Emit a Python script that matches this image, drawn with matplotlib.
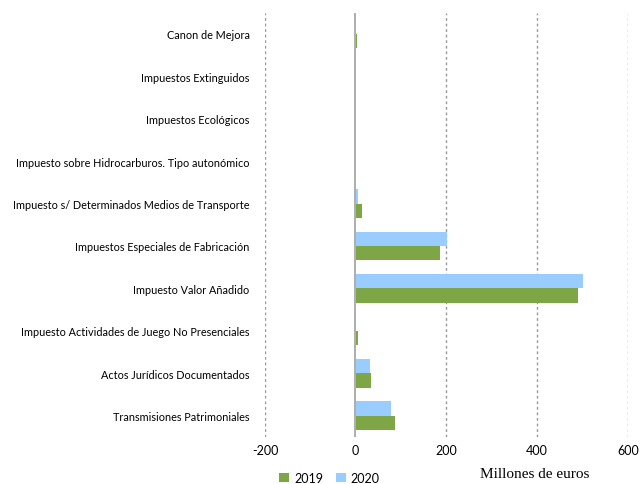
import matplotlib.pyplot as plt
import numpy as np

categories = ['Canon de Mejora', 'Impuestos Extinguidos', 'Impuestos Ecológicos',
              'Impuesto sobre Hidrocarburos. Tipo autonómico',
              'Impuesto s/ Determinados Medios de Transporte',
              'Impuestos Especiales de Fabricación', 'Impuesto Valor Añadido',
              'Impuesto Actividades de Juego No Presenciales',
              'Actos Jurídicos Documentados', 'Transmisiones Patrimoniales']
values_2019 = [3.5, 0.3, 0.5, 0.5, 14, 186, 490, 5, 34, 87]
values_2020 = [1, 0.2, 0.5, 0.5, 5, 200.5, 501, 0.3, 32, 78]
xticks = [-200, 0, 200, 400, 600]

plt.rcParams['font.family'] = ['Lato', 'DejaVu Sans']

fig = plt.figure(figsize=(6.4, 4.85), dpi=100)
ax = fig.add_axes([0.414, 0.097, 0.567, 0.875])

y = np.arange(len(categories))
h = 0.34
ax.barh(y - h / 2, values_2020, height=h, color='#99CCFF', label='2020', zorder=3)
ax.barh(y + h / 2, values_2019, height=h, color='#7FA646', label='2019', zorder=3)

ax.set_ylim(len(categories) - 0.5, -0.5)
ax.set_xlim(-200, 600)
ax.set_xticks(xticks)
ax.set_xticklabels([str(t) for t in xticks], fontsize=9)
ax.set_yticks(y)
ax.set_yticklabels(categories, fontsize=7.8)
ax.tick_params(axis='y', length=0, pad=11)
ax.tick_params(axis='x', length=0, pad=5)
for s in ax.spines.values():
    s.set_visible(False)

# dashed gridlines, solid zero axis underneath the bars
for t in [-200, 200, 400, 600]:
    ax.axvline(t, color='#999999', linestyle=(0, (2, 2)), linewidth=1, zorder=0)
ax.axvline(-0.8, color='#a0a0a0', linewidth=1.2, zorder=2)

handles, labels = ax.get_legend_handles_labels()
fig.legend(handles[::-1], labels[::-1], loc='center', bbox_to_anchor=(0.515, 0.013),
           ncol=2, frameon=False, fontsize=9, handlelength=0.8, handleheight=0.8,
           handletextpad=0.4, columnspacing=1.0)
fig.text(0.75, 0.015, 'Millones de euros', fontsize=11, family='Liberation Serif')

fig.savefig('out.png', dpi=100)
